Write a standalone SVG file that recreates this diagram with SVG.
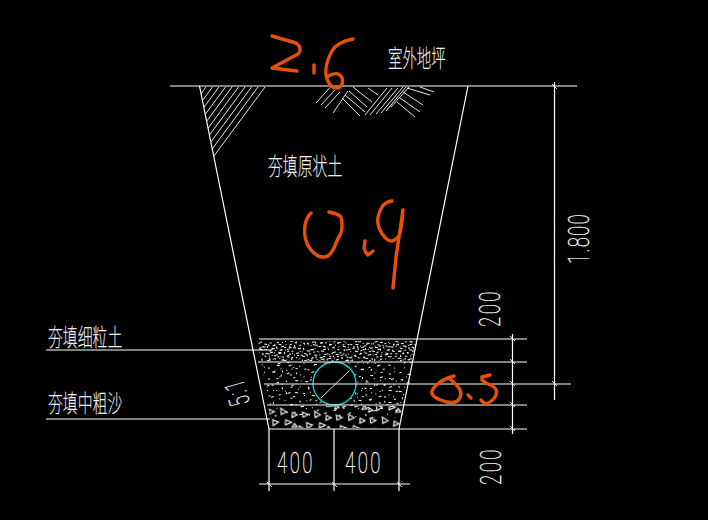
<svg xmlns="http://www.w3.org/2000/svg" width="708" height="520" viewBox="0 0 708 520">
<style>
.l{stroke:#fff;stroke-width:1.2;fill:none}
.h{stroke:#fff;stroke-width:.9;fill:none}
.o{stroke:#e8500a;stroke-width:3.4;fill:none;stroke-linecap:round;stroke-linejoin:round}
.c{font-family:"Noto Sans CJK SC",sans-serif;font-size:24px;font-weight:100;fill:#fff;stroke:#fff;stroke-width:.3}
.d{font-family:Roboto,"Liberation Sans",sans-serif;font-size:30px;font-weight:100;fill:#fff;stroke:#fff;stroke-width:.35;letter-spacing:4px}
</style>
<defs>
<path id="dots1" fill="#fff" d="M1 2h2v1H1zM6 1h1v2H6zM10 3h3v1h-3zM15 1h2v1h-2zM20 2h1v1h-1zM24 1h3v1h-3zM30 3h2v1h-2zM35 1h1v2h-1zM39 2h3v1h-3zM3 5h1v1H3zM8 6h2v1H8zM13 5h1v2h-1zM18 6h3v1h-3zM23 5h1v1h-1zM27 6h2v1h-2zM33 5h2v1h-2zM38 6h1v1h-1zM1 9h2v1H1zM6 9h3v1H6zM11 8h1v1h-1zM16 9h2v1h-2zM21 10h1v1h-1zM25 9h3v1h-3zM31 8h1v2h-1zM36 9h2v1h-2zM41 9h1v1h-1zM4 12h1v1H4zM9 13h2v1H9zM14 12h3v1h-3zM19 13h1v1h-1zM23 12h2v1h-2zM28 13h1v1h-1zM34 12h3v1h-3zM39 13h1v2h-1zM2 16h3v1H2zM7 16h1v1H7zM12 15h2v1h-2zM17 16h1v2h-1zM22 16h2v1h-2zM27 15h1v1h-1zM31 16h3v1h-3zM37 16h1v1h-1zM5 19h2v1H5zM10 20h1v1h-1zM15 19h3v1h-3zM20 20h1v1h-1zM25 19h2v1h-2zM30 20h1v1h-1zM35 19h2v1h-2zM40 20h2v1h-2z"/>
<path id="dots2" fill="#fff" d="M3 2h2v1H3zM11 4h1v2h-1zM19 1h3v1h-3zM29 5h1v1h-1zM38 2h2v1h-2zM7 9h1v1H7zM15 8h3v1h-3zM24 10h1v2h-1zM33 9h2v1h-2zM43 8h1v1h-1zM2 14h3v1H2zM12 15h1v1h-1zM20 14h2v1h-2zM30 16h1v1h-1zM39 14h3v1h-3zM6 20h1v2H6zM16 21h2v1h-2zM26 19h1v1h-1zM35 21h2v1h-2zM44 20h1v1h-1zM1 26h2v1H1zM10 27h3v1h-3zM21 26h1v1h-1zM31 27h1v2h-1zM40 26h3v1h-3zM5 33h1v1H5zM14 32h2v1h-2zM25 34h1v1h-1zM36 32h2v1h-2zM9 39h3v1H9zM19 38h1v2h-1zM29 40h2v1h-2zM42 38h1v1h-1zM23 4h1v1h-1zM34 3h1v1h-1zM8 24h1v1H8z"/>
<pattern id="s1" width="43" height="23" patternUnits="userSpaceOnUse" patternTransform="translate(255 339) rotate(9)"><use href="#dots1"/></pattern>
<pattern id="s1b" width="43" height="23" patternUnits="userSpaceOnUse" patternTransform="translate(262 345) rotate(-14)"><use href="#dots1"/></pattern>
<pattern id="s2" width="47" height="43" patternUnits="userSpaceOnUse" patternTransform="translate(258 362) rotate(6)"><use href="#dots2"/></pattern>
<pattern id="s2b" width="47" height="43" patternUnits="userSpaceOnUse" patternTransform="translate(270 370) rotate(-17)"><use href="#dots2"/></pattern>
<pattern id="s3" width="34" height="24" patternUnits="userSpaceOnUse" patternTransform="translate(266 405) rotate(5)">
<path fill="none" stroke="#fff" stroke-width="1.1" d="M3 4l6 2-5 3zM15 2l6 3-5 3zM27 5l5 2-5 3zM8 14l6 2-5 4zM21 13l6 2-6 3zM1 18l4 2-4 2zM30 16l3 3-5 1z"/>
</pattern>
</defs>
<rect width="708" height="520" fill="#000"/>

<g id="trench">
<path class="l" d="M199.5 86L269 429M468 86L399 429"/>
<path class="l" d="M170 86H577"/>
<path class="h" d="M206 87L201 93.7M212.5 87L202.4 100.6M219 87L203.8 107.5M225.5 87L205.2 114.4M232 87L206.6 121.3M238.5 87L208.1 128.1M245 87L209.5 135M251.5 87L210.9 141.9M258 87L212.3 148.8M265 87L213.8 156.2"/>
<path class="h" d="M316 103L330 87.5M321 105L335 90M325 108L340 92M333 113L348 91M342 98L360 116M345 95L365 112M349 91L367 107M353 87L372 102M368 88L378 95M365 115L387 88M370 115L392 88M376 114L398 88M381 113L403 87M386 111L406 87M391 107L409 87M397 102L415 117M400 98L420 112M403 92L423 105M407 88L430 95M420 87L434 92"/>
</g>

<g id="fill">
<path fill="url(#s1)" d="M257 341H417L413 361H261z"/>
<path fill="url(#s1b)" d="M257 341H417L413 361H261z"/>
<path fill="url(#s2)" d="M261 362H413L406 405H270z"/>
<path fill="url(#s2b)" d="M261 362H413L406 405H270z"/>
<path fill="url(#s2b)" d="M268 405H404L401 418H270z"/>
<path fill="url(#s3)" d="M268 406H404L400 428H272z"/>
</g>

<g id="pipe">
<circle cx="334.5" cy="383.5" r="21.5" fill="#000" stroke="#00d8d8" stroke-width="1.3"/>
<path class="h" d="M349 371L321 398"/>
</g>

<g id="connectors">
<path class="l" d="M259 339H527M258 362H527M264 384H571M267 405H527M269 429H527"/>
<path class="l" d="M46 350H272M46 419H270"/>
<path class="l" d="M512.5 334V434M554.5 82V400"/>
<path class="l" d="M269 429V491M334 429V491M399 429V491M259 484H410"/>
<path class="h" d="M510 336l5 5M510 359l5 5M510 381l5 5M510 402l5 5M510 426l5 5M552 84l5 5M552 381l5 5M267 482l5 5M332 482l5 5M397 482l5 5"/>
</g>

<g id="labels">
<text class="c" transform="translate(388,67) scale(.6,1)">室外地坪</text>
<text class="c" transform="translate(268,175) scale(.62,1)">夯填原状土</text>
<text class="c" transform="translate(48,346) scale(.62,1)">夯填细粒土</text>
<text class="c" transform="translate(48,412) scale(.62,1)">夯填中粗沙</text>
<text class="d" transform="translate(277,473) scale(.62,1)">400</text>
<text class="d" transform="translate(345,473) scale(.62,1)">400</text>
<text class="d" transform="translate(500,327) rotate(-90) scale(.62,1)">200</text>
<text class="d" transform="translate(501,485) rotate(-90) scale(.62,1)">200</text>
<text class="d" style="letter-spacing:2px" transform="translate(589,264) rotate(-90) scale(.62,1)">1.800</text>
<text class="d" style="font-size:28px;letter-spacing:3px" transform="translate(250,403) rotate(-106) scale(.62,1)">5:1</text>
</g>

<g id="handwriting">
<path class="o" d="M272 36L296 43Q303 48 298 54L272 68L297 71M314 65V73M353 39Q337 42 332 51Q327 60 326 68.5Q325 77 329 83Q333 89 337.5 88Q342 87 342.5 82Q343 77 339 74.5Q335 72 327 77"/>
<path class="o" d="M311 213Q306 218 305 225.5Q304 233 305.5 239Q307 245 311 250Q315 255 320 256.5Q325 258 328.5 255.5Q332 253 335 245.5Q338 238 340 235Q342 232 342 225Q342 218 340 216Q338 214 329 212M365 241L364 248Q365 252 368 255L373 251M392 201Q385 202 382 207Q379 212 378 217.5Q377 223 379.5 229Q382 235 386 238.5Q390 242 393.5 240.5Q397 239 399 235.5Q401 232 402 221L403 210L399 237L396 257L393 288"/>
<path class="o" d="M454 376Q443 379 437 384.5Q431 390 432 393.5Q433 397 440.5 400Q448 403 453 402.5Q458 402 460 397.5Q462 393 459.5 389Q457 385 450 379M468 395L471 398M490 375L482 377L482 380Q484 382 488 384Q496 387 496.5 391Q497 395 493.5 399Q490 403 485 404L481 400"/>
</g>
</svg>
